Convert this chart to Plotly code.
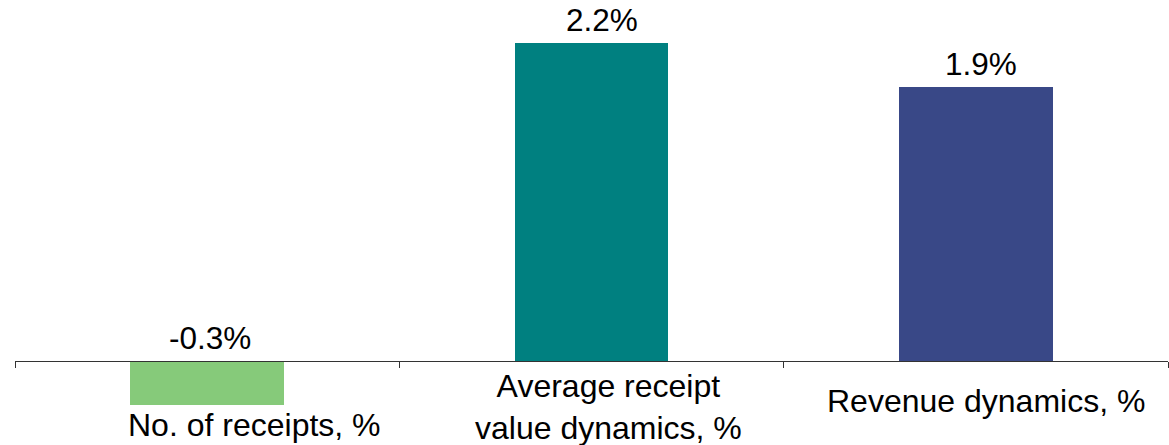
import plotly.graph_objects as go

# Year-on-year dynamics
categories = ["No. of receipts, %", "Average receipt<br>value dynamics, %", "Revenue dynamics, %"]
values = [-0.3, 2.2, 1.9]
value_labels = ["-0.3%", "2.2%", "1.9%"]
bar_colors = ["#86CA7A", "#008080", "#394887"]

FONT = "Liberation Sans, Arial, sans-serif"
y_range = [-0.58, 2.5]
x_pos = list(range(len(categories)))

fig = go.Figure(
    go.Bar(
        x=x_pos,
        y=values,
        width=0.4,
        marker=dict(color=bar_colors, line=dict(width=0)),
        hoverinfo="skip",
    )
)

# value labels above each bar (negative bar labelled above the zero line)
label_dx = [3, 10, 5]
for xi, v, t, dx in zip(x_pos, values, value_labels, label_dx):
    fig.add_annotation(
        x=xi, y=max(v, 0), xref="x", yref="y", text=t, showarrow=False,
        yanchor="bottom", xanchor="center", xshift=dx, yshift=3,
        font=dict(family=FONT, size=31.5, color="#000000"),
    )

# category labels beneath the zero line
cat_dx = [47, 17, 10]
cat_dy = [-64, -46, -40]
for xi, c, dx, dy in zip(x_pos, categories, cat_dx, cat_dy):
    fig.add_annotation(
        x=xi, y=0, xref="x", yref="y", text=c, showarrow=False,
        yanchor="middle", xanchor="center", xshift=dx, yshift=dy,
        align="center",
        font=dict(family=FONT, size=32, color="#000000"),
    )

zero_frac = (0 - y_range[0]) / (y_range[1] - y_range[0])

fig.update_layout(
    width=1169,
    height=445,
    margin=dict(l=15, r=1, t=0, b=0),
    paper_bgcolor="white",
    plot_bgcolor="white",
    showlegend=False,
    bargap=0,
    xaxis=dict(
        range=[-0.5, 2.5],
        tickvals=[-0.5, 0.5, 1.5, 2.5],
        showticklabels=False,
        ticks="outside",
        ticklen=6,
        tickwidth=1,
        tickcolor="#333333",
        showline=True,
        linecolor="#333333",
        linewidth=1,
        showgrid=False,
        zeroline=False,
        anchor="free",
        position=zero_frac,
        fixedrange=True,
    ),
    yaxis=dict(
        range=y_range,
        visible=False,
        showgrid=False,
        zeroline=False,
        fixedrange=True,
    ),
)

fig.write_html("out.html", config={"displayModeBar": False})
